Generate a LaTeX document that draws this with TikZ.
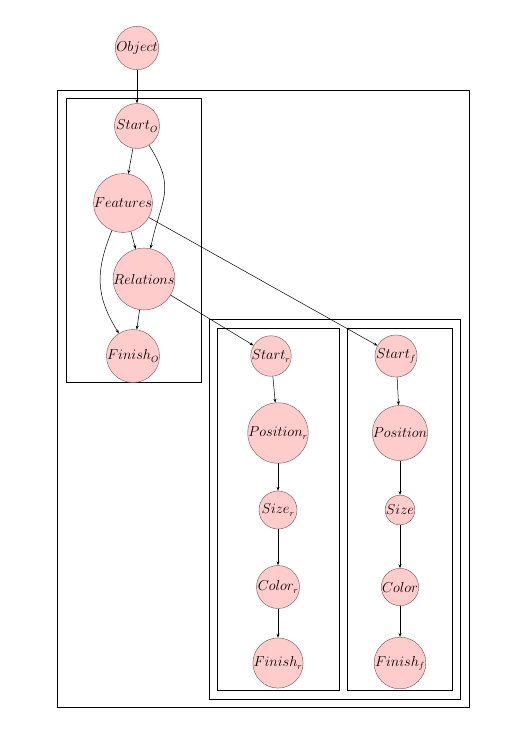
\documentclass[tikz,border=0pt]{standalone}
\usepackage{amsmath, amssymb}
\usepackage{xcolor}
\usepackage{tikz}
\usetikzlibrary{calc, arrows.meta}

\definecolor{nodefill}{RGB}{255,204,204}
\definecolor{nodeline}{RGB}{120,80,80}

\tikzset{
	var/.style = {circle, draw = nodeline, line width = 0.4pt, fill = nodefill, inner sep = 0pt, font = \fontsize{13.5}{15}\selectfont},
	edge/.style = {-{Stealth[length=4pt, width=3pt]}, line width = 0.5pt},
	plate/.style = {draw, line width = 1pt}
}

\begin{document}
\begin{tikzpicture}[x=1pt, y=1pt]
			\useasboundingbox (0,0) rectangle (522,-734);

			% plates
			\begin{scope}
				\draw [plate] (57,-90) rectangle (469,-707);
				\draw [plate] (66,-98) rectangle (201,-382);
				\draw [plate] (209,-319) rectangle (460,-699);
				\draw [plate] (217,-328) rectangle (339,-690);
				\draw [plate] (347,-328) rectangle (452,-690);
			\end{scope}

			% object part
			\node [var, minimum size = 41] (obj) at (137,-48) {$Object$};
			\node [var, minimum size = 45] (startO) at (137,-126) {$Start_O$};
			\node [var, minimum size = 55] (feat) at (123,-203) {$Features$};
			\node [var, minimum size = 59] (rel) at (144,-279) {$Relations$};
			\node [var, minimum size = 53] (finO) at (133,-356) {$Finish_O$};

			% relations part
			\node [var, minimum size = 39] (startr) at (271,-356) {$Start_r$};
			\node [var, minimum size = 59] (posr) at (278,-433) {$Position_r$};
			\node [var, minimum size = 38] (sizer) at (278,-510) {$Size_r$};
			\node [var, minimum size = 43] (colr) at (278,-587) {$Color_r$};
			\node [var, minimum size = 49] (finr) at (278,-663) {$Finish_r$};

			% features part
			\node [var, minimum size = 40] (startf) at (396,-356) {$Start_f$};
			\node [var, minimum size = 52] (posf) at (400,-433) {$Position$};
			\node [var, minimum size = 28] (sizef) at (400,-510) {$Size$};
			\node [var, minimum size = 35] (colf) at (400,-587) {$Color$};
			\node [var, minimum size = 49] (finf) at (400,-663) {$Finish_f$};

			\begin{scope}[edge]
				\draw (obj) -- (startO);
				\draw (startO) -- (feat);
				\draw (startO) to [out = -58, in = 78, looseness = 1.3] (rel);
				\draw (feat) -- (rel);
				\draw (feat) to [out = -112, in = 122, looseness = 1.1] (finO);
				\draw (rel) -- (finO);
				\draw (feat) -- (startf);
				\draw (rel) -- (startr);

				\draw (startr) -- (posr);
				\draw (posr) -- (sizer);
				\draw (sizer) -- (colr);
				\draw (colr) -- (finr);

				\draw (startf) -- (posf);
				\draw (posf) -- (sizef);
				\draw (sizef) -- (colf);
				\draw (colf) -- (finf);
			\end{scope}
		\end{tikzpicture}
\end{document}
